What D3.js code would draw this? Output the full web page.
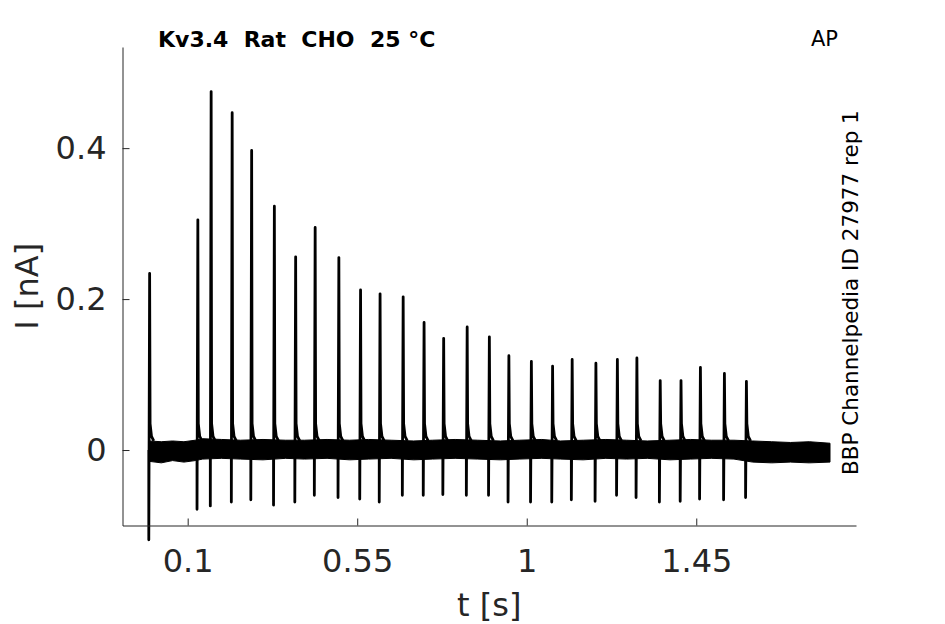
<!DOCTYPE html>
<html>
<head>
<meta charset="utf-8">
<script src="https://cdn.jsdelivr.net/npm/d3@7"></script>
<style>
  body { margin: 0; background: #fff; }
  text { font-family: "DejaVu Sans", sans-serif; }
</style>
</head>
<body>
<script>
// spike events: time [s], peak and trough [nA]
const spikeT = [-0.002, 0.126, 0.1613, 0.2171, 0.2688, 0.3291, 0.3856, 0.4374, 0.5003, 0.5579,
    0.6097, 0.6710, 0.7265, 0.7785, 0.8409, 0.8998, 0.9516, 1.0113, 1.0676, 1.1196,
    1.1826, 1.2396, 1.2914, 1.3533, 1.4085, 1.4600, 1.5237, 1.5821];
const spikePeak = [0.234, 0.305, 0.475, 0.447, 0.397, 0.323, 0.256, 0.295, 0.255, 0.212,
    0.207, 0.203, 0.169, 0.148, 0.163, 0.150, 0.125, 0.1175, 0.111, 0.120,
    0.115, 0.120, 0.122, 0.092, 0.092, 0.1095, 0.1015, 0.091];
const spikeTrough = [-0.119, -0.0785, -0.074, -0.069, -0.066, -0.073, -0.069, -0.060, -0.063, -0.065,
    -0.069, -0.060, -0.060, -0.059, -0.060, -0.060, -0.069, -0.069, -0.069, -0.066,
    -0.068, -0.060, -0.063, -0.069, -0.068, -0.065, -0.066, -0.063];

// baseline noise envelope
const bandT = [-0.002, 0.03, 0.06, 0.09, 0.12, 0.14, 0.19, 0.24, 0.30, 0.36, 0.41, 0.47, 0.53, 0.58,
    0.64, 0.70, 0.75, 0.81, 0.87, 0.93, 0.98, 1.04, 1.09, 1.15, 1.21, 1.265, 1.32, 1.38,
    1.435, 1.49, 1.55, 1.60, 1.65, 1.70, 1.75, 1.805];
const bandHi = [0.012, 0.011, 0.012, 0.011, 0.013, 0.015, 0.014, 0.013, 0.014, 0.013, 0.013, 0.014,
    0.013, 0.014, 0.013, 0.012, 0.013, 0.014, 0.013, 0.012, 0.013, 0.014, 0.012, 0.013,
    0.014, 0.013, 0.012, 0.013, 0.014, 0.013, 0.013, 0.012, 0.011, 0.010, 0.011, 0.009];
const bandLo = [-0.015, -0.017, -0.014, -0.016, -0.014, -0.012, -0.011, -0.012, -0.013, -0.011,
    -0.012, -0.011, -0.013, -0.012, -0.011, -0.013, -0.012, -0.011, -0.012, -0.013,
    -0.012, -0.011, -0.012, -0.013, -0.011, -0.012, -0.011, -0.013, -0.012, -0.011,
    -0.012, -0.016, -0.017, -0.016, -0.017, -0.016];

const xTicks = [0.1, 0.55, 1, 1.45];
const xTickLabels = ["0.1", "0.55", "1", "1.45"];
const yTicks = [0, 0.2, 0.4];
const yTickLabels = ["0", "0.2", "0.4"];

const w = 945, h = 624;
const plotL = 122.5, plotR = 856, plotT = 47, plotB = 525.5;
const axisColor = "#262626";

const svg = d3.select("body").append("svg")
    .attr("width", w)
    .attr("height", h);

const x = d3.scaleLinear().domain([-0.073, 1.874]).range([plotL, plotR]);
const y = d3.scaleLinear().domain([-0.1, 0.534]).range([plotB, plotT]);

// noise band
const band = bandT.map((t, i) => ({t: t, hi: bandHi[i], lo: bandLo[i]}));
svg.append("path")
    .datum(band)
    .attr("d", d3.area()
        .x(d => x(d.t))
        .y0(d => y(d.lo))
        .y1(d => y(d.hi)))
    .attr("fill", "#000")
    .attr("stroke", "#000")
    .attr("stroke-width", 1);

// spikes: dip, sharp rise, short decaying tail
const line = d3.line().x(d => x(d[0])).y(d => y(d[1]));
svg.selectAll(".spike")
    .data(spikeT)
    .enter()
    .append("path")
    .attr("class", "spike")
    .attr("d", function(t, i) {
        return line([
            [t - 0.0012, 0],
            [t - 0.0012, spikeTrough[i]],
            [t + 0.0010, spikePeak[i]],
            [t + 0.0022, 0.035],
            [t + 0.006, 0.018],
            [t + 0.012, 0.012]
        ]);
    })
    .attr("fill", "none")
    .attr("stroke", "#000")
    .attr("stroke-width", 2.8)
    .attr("stroke-linejoin", "round");

// axes, ticks pointing inward
const xAxis = d3.axisBottom(x)
    .tickValues(xTicks)
    .tickFormat((d, i) => xTickLabels[i])
    .tickSizeInner(-7)
    .tickSizeOuter(0)
    .tickPadding(24);
const yAxis = d3.axisLeft(y)
    .tickValues(yTicks)
    .tickFormat((d, i) => yTickLabels[i])
    .tickSizeInner(-7)
    .tickSizeOuter(0)
    .tickPadding(16);

const gx = svg.append("g")
    .attr("transform", "translate(0," + plotB + ")")
    .call(xAxis);
const gy = svg.append("g")
    .attr("transform", "translate(" + plotL + ",0)")
    .call(yAxis);

[gx, gy].forEach(function(g) {
    g.selectAll("path, line").attr("stroke", axisColor).attr("stroke-width", 1);
    g.selectAll("text")
        .attr("fill", axisColor)
        .style("font-family", "'DejaVu Sans', sans-serif")
        .style("font-size", "32px");
});

// axis titles
svg.append("text")
    .attr("x", (plotL + plotR) / 2)
    .attr("y", 616)
    .attr("text-anchor", "middle")
    .attr("fill", axisColor)
    .style("font-size", "32px")
    .text("t [s]");

svg.append("text")
    .attr("transform", "translate(38," + ((plotT + plotB) / 2) + ") rotate(-90)")
    .attr("text-anchor", "middle")
    .attr("fill", axisColor)
    .style("font-size", "32px")
    .text("I [nA]");

// annotations
svg.append("text")
    .attr("x", 158)
    .attr("y", 47)
    .attr("fill", "#000")
    .attr("font-weight", "bold")
    .style("font-size", "22px")
    .style("white-space", "pre")
    .text("Kv3.4  Rat  CHO  25 °C");

svg.append("text")
    .attr("x", 811)
    .attr("y", 46)
    .attr("fill", "#000")
    .style("font-size", "21px")
    .text("AP");

svg.append("text")
    .attr("transform", "translate(858,475) rotate(-90)")
    .attr("fill", "#000")
    .style("font-size", "21.5px")
    .text("BBP Channelpedia ID 27977 rep 1");
</script>
</body>
</html>
